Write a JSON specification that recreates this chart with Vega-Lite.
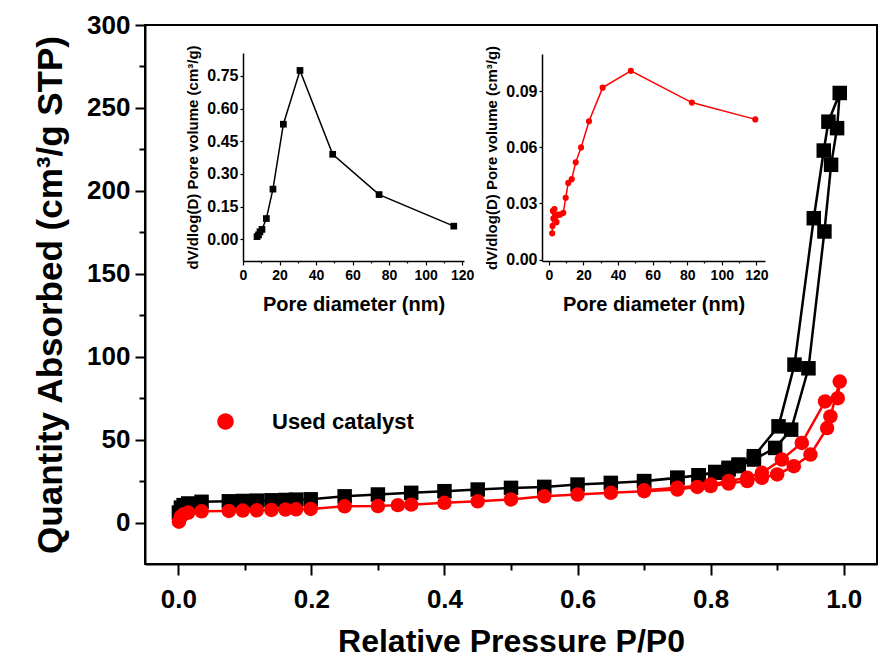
{
  "$schema": "https://vega.github.io/schema/vega-lite/v6.json",
  "width": 732,
  "height": 539,
  "autosize": {"type": "none"},
  "padding": {"left": 145, "top": 25, "right": 1, "bottom": 98},
  "background": "white",
  "config": {
    "view": {"stroke": "black", "strokeWidth": 2},
    "font": "Liberation Sans",
    "axis": {
      "grid": false, "domainColor": "black", "tickColor": "black", "labelColor": "black", "titleColor": "black",
      "labelFont": "Liberation Sans", "titleFont": "Liberation Sans", "labelFontWeight": "bold", "titleFontWeight": "bold",
      "labelFlush": false, "labelOverlap": false
    },
    "legend": {
      "title": null, "orient": "none", "padding": 0,
      "symbolSize": 900, "symbolStrokeWidth": 2.5, "symbolOpacity": 1,
      "labelFont": "Liberation Sans", "labelFontWeight": "bold", "labelFontSize": 22, "labelColor": "black",
      "labelOffset": 30
    }
  },
  "datasets": {
    "iso": [
      {"s": "Fresh catalyst", "o": 1, "p": 0.001, "v": 6},
      {"s": "Fresh catalyst", "o": 2, "p": 0.004, "v": 9},
      {"s": "Fresh catalyst", "o": 3, "p": 0.008, "v": 10.5},
      {"s": "Fresh catalyst", "o": 4, "p": 0.015, "v": 11.5},
      {"s": "Fresh catalyst", "o": 5, "p": 0.035, "v": 12.5},
      {"s": "Fresh catalyst", "o": 6, "p": 0.076, "v": 12.8},
      {"s": "Fresh catalyst", "o": 7, "p": 0.097, "v": 13},
      {"s": "Fresh catalyst", "o": 8, "p": 0.118, "v": 13.2},
      {"s": "Fresh catalyst", "o": 9, "p": 0.14, "v": 13.4},
      {"s": "Fresh catalyst", "o": 10, "p": 0.161, "v": 13.6},
      {"s": "Fresh catalyst", "o": 11, "p": 0.177, "v": 13.8},
      {"s": "Fresh catalyst", "o": 12, "p": 0.199, "v": 14},
      {"s": "Fresh catalyst", "o": 13, "p": 0.25, "v": 15.8},
      {"s": "Fresh catalyst", "o": 14, "p": 0.30, "v": 16.9},
      {"s": "Fresh catalyst", "o": 15, "p": 0.35, "v": 17.9},
      {"s": "Fresh catalyst", "o": 16, "p": 0.40, "v": 18.9},
      {"s": "Fresh catalyst", "o": 17, "p": 0.45, "v": 19.9},
      {"s": "Fresh catalyst", "o": 18, "p": 0.50, "v": 20.9},
      {"s": "Fresh catalyst", "o": 19, "p": 0.55, "v": 21.5},
      {"s": "Fresh catalyst", "o": 20, "p": 0.60, "v": 22.9},
      {"s": "Fresh catalyst", "o": 21, "p": 0.65, "v": 23.9},
      {"s": "Fresh catalyst", "o": 22, "p": 0.70, "v": 24.9},
      {"s": "Fresh catalyst", "o": 23, "p": 0.75, "v": 26.9},
      {"s": "Fresh catalyst", "o": 24, "p": 0.782, "v": 28.5},
      {"s": "Fresh catalyst", "o": 25, "p": 0.807, "v": 30},
      {"s": "Fresh catalyst", "o": 26, "p": 0.827, "v": 32},
      {"s": "Fresh catalyst", "o": 27, "p": 0.842, "v": 34},
      {"s": "Fresh catalyst", "o": 28, "p": 0.865, "v": 38},
      {"s": "Fresh catalyst", "o": 29, "p": 0.897, "v": 45},
      {"s": "Fresh catalyst", "o": 30, "p": 0.921, "v": 56},
      {"s": "Fresh catalyst", "o": 31, "p": 0.947, "v": 93},
      {"s": "Fresh catalyst", "o": 32, "p": 0.971, "v": 175.5},
      {"s": "Fresh catalyst", "o": 33, "p": 0.981, "v": 215.7},
      {"s": "Fresh catalyst", "o": 34, "p": 0.990, "v": 237.8},
      {"s": "Fresh catalyst", "o": 35, "p": 0.994, "v": 259},
      {"s": "Fresh catalyst", "o": 36, "p": 0.977, "v": 241.7},
      {"s": "Fresh catalyst", "o": 37, "p": 0.970, "v": 224.3},
      {"s": "Fresh catalyst", "o": 38, "p": 0.955, "v": 183.5},
      {"s": "Fresh catalyst", "o": 39, "p": 0.926, "v": 95.2},
      {"s": "Fresh catalyst", "o": 40, "p": 0.902, "v": 58},
      {"s": "Fresh catalyst", "o": 41, "p": 0.865, "v": 40},
      {"s": "Fresh catalyst", "o": 42, "p": 0.842, "v": 35},
      {"s": "Fresh catalyst", "o": 43, "p": 0.827, "v": 33},
      {"s": "Fresh catalyst", "o": 44, "p": 0.807, "v": 30.5},
      {"s": "Fresh catalyst", "o": 45, "p": 0.782, "v": 28.5},
      {"s": "Fresh catalyst", "o": 46, "p": 0.75, "v": 27},
      {"s": "Fresh catalyst", "o": 47, "p": 0.70, "v": 25},
      {"s": "Used catalyst", "o": 1, "p": 0.001, "v": 0.5},
      {"s": "Used catalyst", "o": 2, "p": 0.004, "v": 3.5},
      {"s": "Used catalyst", "o": 3, "p": 0.008, "v": 5},
      {"s": "Used catalyst", "o": 4, "p": 0.015, "v": 6},
      {"s": "Used catalyst", "o": 5, "p": 0.035, "v": 6.8},
      {"s": "Used catalyst", "o": 6, "p": 0.076, "v": 7},
      {"s": "Used catalyst", "o": 7, "p": 0.097, "v": 7.2},
      {"s": "Used catalyst", "o": 8, "p": 0.118, "v": 7.4},
      {"s": "Used catalyst", "o": 9, "p": 0.14, "v": 7.6},
      {"s": "Used catalyst", "o": 10, "p": 0.161, "v": 7.8},
      {"s": "Used catalyst", "o": 11, "p": 0.177, "v": 8},
      {"s": "Used catalyst", "o": 12, "p": 0.199, "v": 8.2},
      {"s": "Used catalyst", "o": 13, "p": 0.25, "v": 9.8},
      {"s": "Used catalyst", "o": 14, "p": 0.30, "v": 9.9},
      {"s": "Used catalyst", "o": 15, "p": 0.33, "v": 10.5},
      {"s": "Used catalyst", "o": 16, "p": 0.35, "v": 10.8},
      {"s": "Used catalyst", "o": 17, "p": 0.40, "v": 11.9},
      {"s": "Used catalyst", "o": 18, "p": 0.45, "v": 12.8},
      {"s": "Used catalyst", "o": 19, "p": 0.50, "v": 13.9},
      {"s": "Used catalyst", "o": 20, "p": 0.55, "v": 15.8},
      {"s": "Used catalyst", "o": 21, "p": 0.60, "v": 16.9},
      {"s": "Used catalyst", "o": 22, "p": 0.65, "v": 17.9},
      {"s": "Used catalyst", "o": 23, "p": 0.70, "v": 18.9},
      {"s": "Used catalyst", "o": 24, "p": 0.75, "v": 19.9},
      {"s": "Used catalyst", "o": 25, "p": 0.78, "v": 21.5},
      {"s": "Used catalyst", "o": 26, "p": 0.80, "v": 22},
      {"s": "Used catalyst", "o": 27, "p": 0.827, "v": 23.5},
      {"s": "Used catalyst", "o": 28, "p": 0.855, "v": 25},
      {"s": "Used catalyst", "o": 29, "p": 0.877, "v": 27},
      {"s": "Used catalyst", "o": 30, "p": 0.90, "v": 29},
      {"s": "Used catalyst", "o": 31, "p": 0.925, "v": 34},
      {"s": "Used catalyst", "o": 32, "p": 0.95, "v": 41},
      {"s": "Used catalyst", "o": 33, "p": 0.975, "v": 57},
      {"s": "Used catalyst", "o": 34, "p": 0.98, "v": 64},
      {"s": "Used catalyst", "o": 35, "p": 0.994, "v": 85},
      {"s": "Used catalyst", "o": 36, "p": 0.991, "v": 75},
      {"s": "Used catalyst", "o": 37, "p": 0.972, "v": 73},
      {"s": "Used catalyst", "o": 38, "p": 0.937, "v": 48},
      {"s": "Used catalyst", "o": 39, "p": 0.907, "v": 38},
      {"s": "Used catalyst", "o": 40, "p": 0.877, "v": 30},
      {"s": "Used catalyst", "o": 41, "p": 0.855, "v": 27},
      {"s": "Used catalyst", "o": 42, "p": 0.827, "v": 25},
      {"s": "Used catalyst", "o": 43, "p": 0.80, "v": 23},
      {"s": "Used catalyst", "o": 44, "p": 0.75, "v": 21},
      {"s": "Used catalyst", "o": 45, "p": 0.70, "v": 19.5}
    ],
    "psd1": [
      {"d": 7.7, "dv": 0.012},
      {"d": 8.5, "dv": 0.02},
      {"d": 9.3, "dv": 0.034},
      {"d": 10.4, "dv": 0.045},
      {"d": 12.8, "dv": 0.095},
      {"d": 16.4, "dv": 0.23},
      {"d": 22.1, "dv": 0.528},
      {"d": 31.2, "dv": 0.775},
      {"d": 49.1, "dv": 0.39},
      {"d": 74.5, "dv": 0.205},
      {"d": 115.4, "dv": 0.06}
    ],
    "psd2": [
      {"d": 1.9, "dv": 0.014},
      {"d": 2.1, "dv": 0.018},
      {"d": 2.3, "dv": 0.026},
      {"d": 2.6, "dv": 0.022},
      {"d": 3.2, "dv": 0.027},
      {"d": 3.8, "dv": 0.023},
      {"d": 4.4, "dv": 0.020},
      {"d": 5.3, "dv": 0.024},
      {"d": 6.4, "dv": 0.024},
      {"d": 8.3, "dv": 0.025},
      {"d": 9.7, "dv": 0.033},
      {"d": 11.2, "dv": 0.041},
      {"d": 13.2, "dv": 0.043},
      {"d": 15.5, "dv": 0.052},
      {"d": 18.6, "dv": 0.060},
      {"d": 23.2, "dv": 0.074},
      {"d": 31.1, "dv": 0.092},
      {"d": 47.4, "dv": 0.101},
      {"d": 82.7, "dv": 0.084},
      {"d": 119.4, "dv": 0.075}
    ]
  },
  "layer": [
    {
      "data": {"values": [{}]},
      "mark": {"type": "rect", "fillOpacity": 0, "stroke": "black", "strokeWidth": 2},
      "encoding": {
        "x": {"datum": 0, "type": "quantitative", "scale": {"domain": [0, 1], "range": [0, 732]}, "axis": null},
        "x2": {"datum": 1},
        "y": {"datum": 0, "type": "quantitative", "scale": {"domain": [0, 1], "range": [539, 0]}, "axis": null},
        "y2": {"datum": 1}
      }
    },
    {
      "data": {"name": "iso"},
      "encoding": {
        "x": {
          "field": "p", "type": "quantitative",
          "scale": {"domain": [-0.05, 1.05], "nice": false, "zero": false},
          "axis": {
            "title": "Relative Pressure P/P0", "orient": "bottom",
            "values": [0, 0.1, 0.2, 0.3, 0.4, 0.5, 0.6, 0.7, 0.8, 0.9, 1.0],
            "format": ".1f",
            "labelExpr": "round(datum.value * 10) % 2 === 0 ? datum.label : ''",
            "tickSize": {"condition": {"test": "round(datum.value * 10) % 2 === 0", "value": 11}, "value": 6},
            "tickWidth": 2, "domainWidth": 2,
            "labelFontSize": 26, "labelPadding": 11,
            "titleFontSize": 32, "titlePadding": 14
          }
        },
        "y": {
          "field": "v", "type": "quantitative",
          "scale": {"domain": [-25, 300], "nice": false, "zero": false},
          "axis": {
            "title": "Quantity Absorbed (cm³/g STP)", "orient": "left",
            "values": [0, 25, 50, 75, 100, 125, 150, 175, 200, 225, 250, 275, 300],
            "labelExpr": "datum.value % 50 === 0 ? datum.label : ''",
            "tickSize": {"condition": {"test": "datum.value % 50 === 0", "value": 10}, "value": 6},
            "tickWidth": 2, "domainWidth": 2,
            "labelFontSize": 26, "labelPadding": 5,
            "titleFontSize": 35, "titlePadding": 18
          }
        }
      },
      "layer": [
        {
          "mark": {"type": "line", "strokeWidth": 2.5},
          "encoding": {
            "order": {"field": "o", "type": "quantitative"},
            "color": {"field": "s", "type": "nominal", "scale": {"domain": ["Fresh catalyst", "Used catalyst"], "range": ["#000000", "#ff0000"]}, "legend": null}
          }
        },
        {
          "transform": [{"filter": "datum.s === 'Fresh catalyst'"}],
          "mark": {"type": "point", "filled": true, "size": 210, "shape": "square", "color": "#000000", "opacity": 1},
          "encoding": {
            "fillOpacity": {
              "field": "s", "type": "ordinal",
              "scale": {"domain": ["Fresh catalyst"], "range": [1, 1]},
              "legend": {
                "legendX": 64, "legendY": 332,
                "symbolType": "M-2.45,0H2.45M-0.5,-0.5H0.5V0.5H-0.5Z",
                "symbolFillColor": "#000000", "symbolStrokeColor": "#000000"
              }
            }
          }
        },
        {
          "transform": [{"filter": "datum.s === 'Used catalyst'"}],
          "mark": {"type": "point", "filled": true, "size": 210, "shape": "circle", "color": "#ff0000"},
          "encoding": {
            "opacity": {
              "field": "s", "type": "ordinal",
              "scale": {"domain": ["Used catalyst"], "range": [1, 1]},
              "legend": {
                "legendX": 64, "legendY": 380,
                "symbolType": "M-2.45,0H2.45M0.55,0A0.55,0.55 0 1,1 -0.55,0A0.55,0.55 0 1,1 0.55,0Z",
                "symbolFillColor": "#ff0000", "symbolStrokeColor": "#ff0000"
              }
            }
          }
        }
      ]
    },
    {
      "data": {"name": "psd1"},
      "encoding": {
        "x": {
          "field": "d", "type": "quantitative",
          "scale": {"domain": [0, 121], "range": [98, 319], "nice": false, "zero": false},
          "axis": {
            "title": "Pore diameter (nm)", "orient": "bottom", "offset": -303,
            "values": [0, 10, 20, 30, 40, 50, 60, 70, 80, 90, 100, 110, 120],
            "labelExpr": "datum.value % 20 === 0 ? datum.label : ''",
            "tickSize": {"condition": {"test": "datum.value % 20 === 0", "value": 4}, "value": 2},
            "domainWidth": 1.5, "tickWidth": 1.2,
            "labelFontSize": 14, "labelPadding": 3,
            "titleFontSize": 20, "titlePadding": 12
          }
        },
        "y": {
          "field": "dv", "type": "quantitative",
          "scale": {"domain": [-0.1, 0.855], "range": [236, 28], "nice": false, "zero": false},
          "axis": {
            "title": "dV/dlog(D) Pore volume (cm³/g)", "orient": "left", "offset": -98,
            "values": [0, 0.15, 0.3, 0.45, 0.6, 0.75], "format": ".2f",
            "tickSize": 3, "domainWidth": 1.5, "tickWidth": 1.2,
            "labelFontSize": 16, "labelPadding": 2,
            "titleFontSize": 15, "titlePadding": 6
          }
        }
      },
      "layer": [
        {
          "data": {"values": [{}]},
          "mark": {"type": "rect", "fillOpacity": 0, "stroke": "black", "strokeWidth": 1.5},
          "encoding": {"x": {"datum": 0}, "x2": {"datum": 121}, "y": {"datum": -0.1}, "y2": {"datum": 0.855}}
        },
        {"mark": {"type": "line", "color": "black", "strokeWidth": 1.5}},
        {"mark": {"type": "point", "shape": "square", "filled": true, "color": "black", "opacity": 1, "size": 45}}
      ]
    },
    {
      "data": {"name": "psd2"},
      "encoding": {
        "x": {
          "field": "d", "type": "quantitative",
          "scale": {"domain": [-4, 125], "range": [397, 620], "nice": false, "zero": false},
          "axis": {
            "title": "Pore diameter (nm)", "orient": "bottom", "offset": -303,
            "values": [0, 10, 20, 30, 40, 50, 60, 70, 80, 90, 100, 110, 120],
            "labelExpr": "datum.value % 20 === 0 ? datum.label : ''",
            "tickSize": {"condition": {"test": "datum.value % 20 === 0", "value": 4}, "value": 2},
            "domainWidth": 1.5, "tickWidth": 1.2,
            "labelFontSize": 14, "labelPadding": 3,
            "titleFontSize": 20, "titlePadding": 12
          }
        },
        "y": {
          "field": "dv", "type": "quantitative",
          "scale": {"domain": [-0.0008, 0.11], "range": [236, 29], "nice": false, "zero": false},
          "axis": {
            "title": "dV/dlog(D) Pore volume (cm³/g)", "orient": "left", "offset": -397,
            "values": [0, 0.03, 0.06, 0.09], "format": ".2f",
            "tickSize": 3, "domainWidth": 1.5, "tickWidth": 1.2,
            "labelFontSize": 16, "labelPadding": 2,
            "titleFontSize": 15, "titlePadding": 6
          }
        }
      },
      "layer": [
        {
          "data": {"values": [{}]},
          "mark": {"type": "rect", "fillOpacity": 0, "stroke": "black", "strokeWidth": 1.5},
          "encoding": {"x": {"datum": -4}, "x2": {"datum": 125}, "y": {"datum": -0.0008}, "y2": {"datum": 0.11}}
        },
        {"mark": {"type": "line", "color": "#ff0000", "strokeWidth": 1.5}},
        {"mark": {"type": "point", "shape": "circle", "filled": true, "color": "#ff0000", "opacity": 1, "size": 38}}
      ]
    }
  ],
  "resolve": {"scale": {"x": "independent", "y": "independent"}}
}
